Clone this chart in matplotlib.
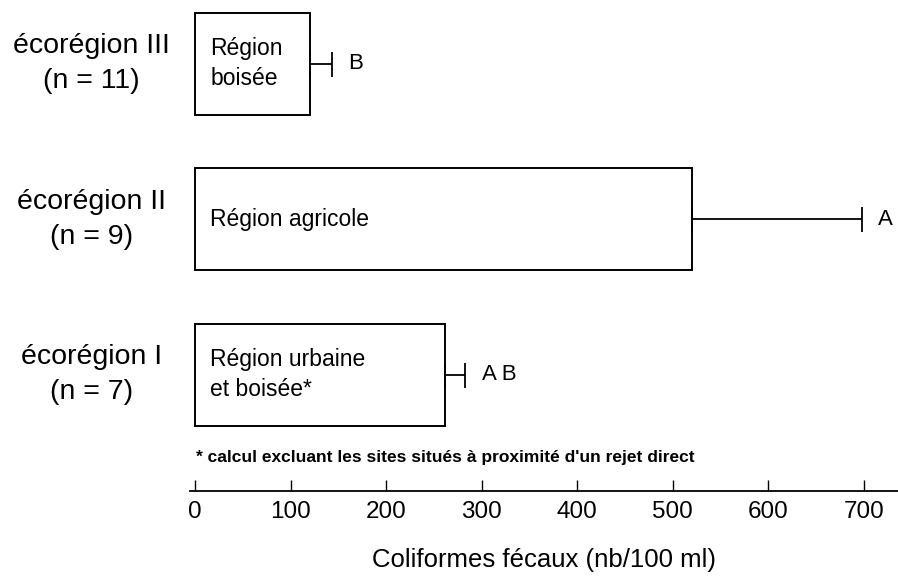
import matplotlib.pyplot as plt

plt.rcParams['font.family'] = ['Liberation Sans', 'DejaVu Sans']

# data, bottom to top
regions = ['écorégion I\n(n = 7)', 'écorégion II\n(n = 9)', 'écorégion III\n(n = 11)']
bar_labels = ['Région urbaine\net boisée*', 'Région agricole', 'Région\nboisée']
means = [262, 520, 120]
errors = [21, 178, 23]
letters = ['A B', 'A', 'B']
ticks = [0, 100, 200, 300, 400, 500, 600, 700]
footnote = "* calcul excluant les sites situés à proximité d'un rejet direct"

fig = plt.figure(figsize=(8.98, 5.78), dpi=100)
W, H = 898.0, 578.0
ax = fig.add_axes([190 / W, (H - 491) / H, (898 - 190) / W, 491 / H])

pos = [0, 1, 2]
ax.barh(pos, means, height=0.657, color='white', edgecolor='black', linewidth=1.4)
ax.errorbar(means, pos, xerr=[[0] * 3, errors], fmt='none', ecolor='black',
            elinewidth=1.3, capsize=9, capthick=1.3)

for y, m, e, lab, let in zip(pos, means, errors, bar_labels, letters):
    ax.text(16, y, lab, ha='left', va='center', fontsize=16.5, linespacing=1.4)
    ax.text(m + e + 17, y, let, ha='left', va='center', fontsize=16)

for y, r in zip(pos, regions):
    ax.text(-108, y, r, ha='center', va='center', fontsize=20.5, linespacing=1.45,
            clip_on=False)

ax.text(1, -0.534, footnote, ha='left', va='center', fontsize=12.5, fontweight='bold')

ax.set_xlim(-5.2, 735.6)
ax.set_ylim(-0.747, 2.409)
ax.set_xticks(ticks)
ax.tick_params(axis='x', direction='in', length=8, width=1, labelsize=17.5, pad=7)
ax.set_yticks([])
for s in ['top', 'right', 'left']:
    ax.spines[s].set_visible(False)
ax.spines['bottom'].set_linewidth(1.3)
ax.set_xlabel('Coliformes fécaux (nb/100 ml)', fontsize=18.5, labelpad=18)

plt.savefig('out.png', dpi=100)
